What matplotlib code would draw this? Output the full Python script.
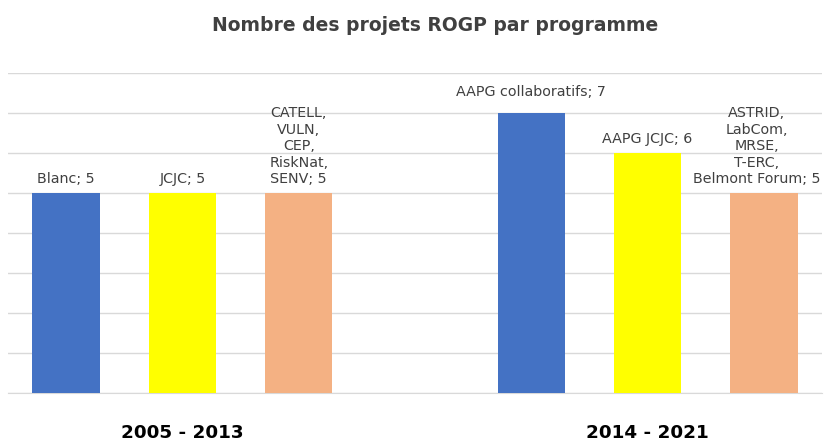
import numpy as np
import matplotlib.pyplot as plt

# =========================
# Data
# =========================
labels = ["Blanc", "JCJC", "CATELL,\nVULN,\nCEP,\nRiskNat,\nSENV",
          "AAPG collaboratifs", "AAPG JCJC",
          "ASTRID,\nLabCom,\nMRSE,\nT-ERC,\nBelmont Forum"]
values = [5, 5, 5, 7, 6, 5]
periods = ["2005 - 2013", "2014 - 2021"]

positions = [0, 1, 2, 4, 5, 6]
colors = ["#4472C4", "#FFFF00", "#F4B183", "#4472C4", "#FFFF00", "#F4B183"]
label_offsets = [5, 5, 5, 10, 5, 5]
label_dx = [0, 0, 0, 0, 0, -5]
text_col = "#404040"

# =========================
# Plot
# =========================
fig = plt.figure(figsize=(8.26, 4.43), dpi=100)
ax = fig.add_axes([8 / 826, 50 / 443, 814 / 826, 320 / 443])

ax.bar(positions, values, width=0.58, color=colors, zorder=3)

for x, v, lab, off, dx in zip(positions, values, labels, label_offsets, label_dx):
    ax.annotate(f"{lab}; {v}", (x, v), xytext=(dx, off), textcoords="offset points",
                ha="center", va="bottom", fontsize=10.3, color=text_col,
                linespacing=1.22, zorder=4)

ax.set_xlim(-0.5, 6.5)
ax.set_ylim(0, 8)
ax.set_yticks(np.arange(0, 9, 1))
ax.grid(axis="y", color="#d9d9d9", linewidth=1, zorder=0)
ax.tick_params(axis="y", left=False, labelleft=False)
for s in ["top", "right", "left"]:
    ax.spines[s].set_visible(False)
ax.spines["bottom"].set_color("#d9d9d9")

ax.set_xticks([1, 5])
ax.set_xticklabels(periods, fontsize=13.2, fontweight="bold",
                   family="DejaVu Sans", color="black")
ax.tick_params(axis="x", length=0, pad=22)

fig.text(0.527, 0.942, "Nombre des projets ROGP par programme", ha="center", va="center",
         fontsize=13.5, fontweight="bold", color=text_col)

fig.savefig("out.png", dpi=100)
